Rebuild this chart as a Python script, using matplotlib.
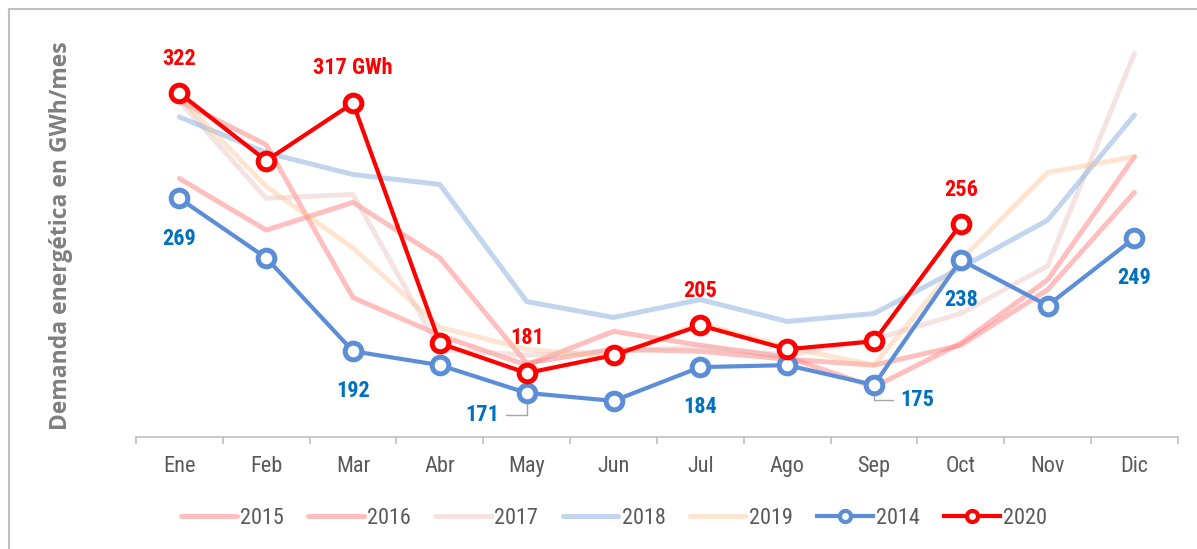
import matplotlib
matplotlib.use("Agg")
import matplotlib.pyplot as plt
from matplotlib.lines import Line2D
from matplotlib import font_manager

# months (category axis)
meses = ["Ene", "Feb", "Mar", "Abr", "May", "Jun", "Jul", "Ago", "Sep", "Oct", "Nov", "Dic"]

# GWh/mes
d2015 = [279, 253, 267, 239, 186, 193, 192, 188, 185, 195, 223, 272]
d2016 = [318, 296, 219, 200, 185, 202, 195, 189, 174, 196, 228, 290]
d2017 = [318, 269, 271, 193, 190, 192, 194, 190, 198, 211, 235, 342]
d2018 = [310, 292, 281, 276, 217, 209, 218, 207, 211, 234, 258, 311]
d2019 = [320, 275, 244, 204, 193, 189, 206, 194, 185, 238, 282, 290]
d2014 = [269, 239, 192, 185, 171, 167, 184, 185, 175, 238, 215, 249]
d2020 = [322, 288, 317, 196, 181, 190, 205, 193, 197, 256]

# which points carry a data label
lab2020 = {0: "322", 2: "317 GWh", 4: "181", 6: "205", 9: "256"}
lab2014 = {0: "269", 2: "192", 4: "171", 6: "184", 8: "175", 9: "238", 11: "249"}

# narrow face close to Arial Narrow, first one installed
nombres = set(f.name for f in font_manager.fontManager.ttflist)
pref = ["Liberation Sans Narrow", "Arial Narrow", "Roboto Condensed", "Noto Sans Condensed",
        "Open Sans Condensed", "Asap Condensed", "Barlow Semi Condensed", "Barlow Condensed"]
elegida = next((n for n in pref if n in nombres), "Liberation Sans")
NARROW = [elegida, "DejaVu Sans"]

GRIS = "#595959"
ROJO = "#FF0000"
AZUL = "#5B8ED6"
AZUL_TXT = "#0070C0"

fig = plt.figure(figsize=(11.97, 5.49), dpi=100)
ax = fig.add_axes([0.1136, 0.204, 0.8704, 0.741])

x = list(range(len(meses)))

fondo = [
    ("2015", d2015, "#FF8080", 0.5),
    ("2016", d2016, "#FF8080", 0.5),
    ("2017", d2017, "#E6B9B8", 0.4),
    ("2018", d2018, "#8EB4E3", 0.55),
    ("2019", d2019, "#FAC090", 0.4),
]
handles = []
for nombre, serie, col, a in fondo:
    ax.plot(x, serie, color=col, alpha=a, lw=3.6, solid_capstyle="round",
            solid_joinstyle="round", zorder=2)
    handles.append(Line2D([], [], color=col, alpha=a, lw=3.6,
                          solid_capstyle="round", label=nombre))

ax.plot(x, d2014, color=AZUL, lw=3, marker="o", ms=12, mew=3.6,
        mfc="white", mec=AZUL, zorder=4)
ax.plot(x[:len(d2020)], d2020, color=ROJO, lw=3, marker="o", ms=12, mew=3.6,
        mfc="white", mec=ROJO, zorder=5)
handles.append(Line2D([], [], color=AZUL, lw=3, marker="o", ms=8, mew=3,
                      mfc="white", mec=AZUL, label="2014"))
handles.append(Line2D([], [], color=ROJO, lw=3, marker="o", ms=8, mew=3,
                      mfc="white", mec=ROJO, label="2020"))

# labels 2020 (above points)
for i, t in lab2020.items():
    ax.annotate(t, (i, d2020[i]), xytext=(0, 17), textcoords="offset points",
                ha="center", va="bottom", color=ROJO, fontsize=16,
                fontweight="bold", family=NARROW)

# labels 2014 (below points, two with leader lines)
for i, t in lab2014.items():
    if i == 4:
        ax.annotate(t, (i, d2014[i]), xytext=(-32, -16), textcoords="offset points",
                    ha="center", va="center", color=AZUL_TXT, fontsize=16,
                    fontweight="bold", family=NARROW, zorder=1,
                    arrowprops=dict(arrowstyle="-", color="#A6A6A6", lw=1,
                                    connectionstyle="angle,angleA=0,angleB=90,rad=0",
                                    relpos=(1.0, 0.5), shrinkA=3, shrinkB=7))
    elif i == 8:
        ax.annotate(t, (i, d2014[i]), xytext=(31, -11), textcoords="offset points",
                    ha="center", va="center", color=AZUL_TXT, fontsize=16,
                    fontweight="bold", family=NARROW, zorder=1,
                    arrowprops=dict(arrowstyle="-", color="#A6A6A6", lw=1,
                                    connectionstyle="angle,angleA=0,angleB=90,rad=0",
                                    relpos=(0.0, 0.5), shrinkA=3, shrinkB=6))
    else:
        ax.annotate(t, (i, d2014[i]), xytext=(0, -21), textcoords="offset points",
                    ha="center", va="top", color=AZUL_TXT, fontsize=16,
                    fontweight="bold", family=NARROW)

ax.set_xlim(-0.5, 11.5)
ax.set_ylim(148.8, 353.7)
ax.set_xticks(x)
ax.set_xticklabels(meses, color=GRIS, fontsize=16, family=NARROW)
ax.set_xticks([i - 0.5 for i in range(13)], minor=True)
ax.tick_params(axis="x", which="major", length=0, pad=14)
ax.tick_params(axis="x", which="minor", length=5, width=1.2, color="#BFBFBF", direction="out")
ax.set_yticks([])
for s in ["top", "right", "left"]:
    ax.spines[s].set_visible(False)
ax.spines["bottom"].set_color("#BFBFBF")
ax.spines["bottom"].set_linewidth(1.2)

fig.text(0.051, 0.57, "Demanda energética en GWh/mes", rotation=90, ha="center",
         va="center", color="#7F7F7F", fontsize=16.5, fontweight="bold",
         family=["Open Sans", "DejaVu Sans"])

leg = fig.legend(handles=handles, loc="center", bbox_to_anchor=(0.513, 0.056), ncol=7,
                 frameon=False, handlelength=2.5, columnspacing=1.1, handletextpad=0.15,
                 prop={"family": NARROW, "size": 16})
for t in leg.get_texts():
    t.set_color(GRIS)

# chart frame (top and left edges visible in the picture)
fig.add_artist(Line2D([0.0075, 0.0075], [0, 0.984], color="#BFBFBF", lw=1.5,
                      transform=fig.transFigure))
fig.add_artist(Line2D([0.0075, 1.0], [0.984, 0.984], color="#BFBFBF", lw=1.5,
                      transform=fig.transFigure))

fig.savefig("out.png", dpi=100, facecolor="white")
